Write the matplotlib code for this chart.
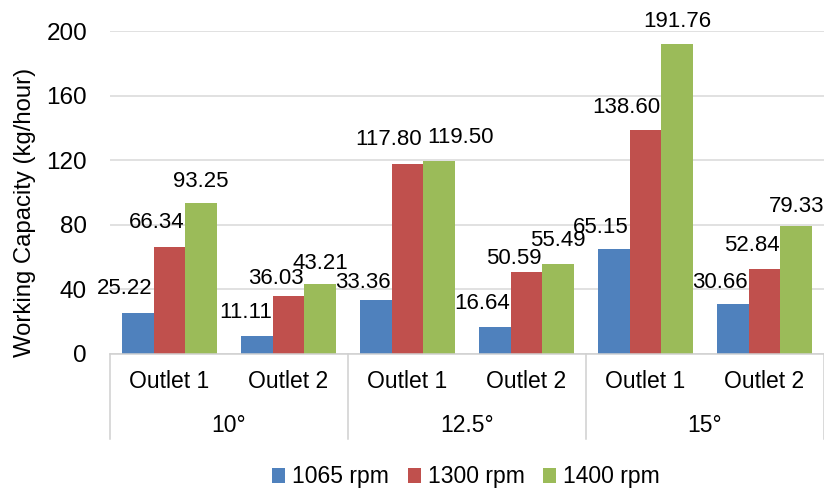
import matplotlib
matplotlib.use("Agg")
import matplotlib.pyplot as plt
import matplotlib.transforms as mtransforms
from matplotlib.lines import Line2D
import numpy as np

plt.rcParams['font.family'] = ['Liberation Sans', 'DejaVu Sans']

# Category structure: outlet within slope angle
outlets = ["Outlet 1", "Outlet 2", "Outlet 1", "Outlet 2", "Outlet 1", "Outlet 2"]
angles = ["10°", "12.5°", "15°"]

# Working capacity (kg/hour) per rotor speed
series_names = ["1065 rpm", "1300 rpm", "1400 rpm"]
rpm_1065 = [25.22, 11.11, 33.36, 16.64, 65.15, 30.66]
rpm_1300 = [66.34, 36.03, 117.80, 50.59, 138.60, 52.84]
rpm_1400 = [93.25, 43.21, 119.50, 55.49, 191.76, 79.33]

yticks = [0, 40, 80, 120, 160, 200]

# Styling
colors = ["#4F81BD", "#C0504D", "#9BBB59"]
label_rise_px = [
    [25, 24, 18, 24, 21, 22],
    [24, 17, 24, 14, 23, 23],
    [22, 21, 24, 24, 23, 19],
]
label_align = [
    ["right"] * 6,
    ["right"] * 6,
    ["center", "center", "left", "center", "center", "center"],
]

W, H, DPI = 824, 492, 100
fig = plt.figure(figsize=(W / DPI, H / DPI), dpi=DPI)
ax_left, ax_right, ax_top, ax_bottom = 110, 824, 31, 354
ax = fig.add_axes([ax_left / W, 1 - ax_bottom / H,
                   (ax_right - ax_left) / W, (ax_bottom - ax_top) / H])

x = np.arange(len(outlets))
bar_w = 1 / 3.75
values = [rpm_1065, rpm_1300, rpm_1400]
px2pt = 72 / DPI

for i, (vals, name, col) in enumerate(zip(values, series_names, colors)):
    xs = x + (i - 1) * bar_w
    ax.bar(xs, vals, width=bar_w, color=col, label=name, zorder=2, linewidth=0)
    for j, v in enumerate(vals):
        ha = label_align[i][j]
        if ha == "right":
            xa, dx = xs[j] + bar_w / 2, -1
        elif ha == "left":
            xa, dx = xs[j] - bar_w / 2, 4
        else:
            xa, dx = xs[j], 0
        ax.annotate(f"{v:.2f}", xy=(xa, v), xytext=(dx * px2pt, label_rise_px[i][j] * px2pt),
                    textcoords="offset points", ha=ha, va="center",
                    fontsize=16, color="black", annotation_clip=False, zorder=3)

ax.set_xlim(-0.5, len(outlets) - 0.5)
ax.set_ylim(0, 200)
ax.set_yticks(yticks)
ax.set_yticklabels([str(t) for t in yticks], fontsize=17.5)
ax.tick_params(axis="y", length=0, pad=16.5)
ax.set_xticks([])
ax.yaxis.grid(True, color="#D9D9D9", linewidth=1.1, zorder=0)
ax.set_axisbelow(True)
for s in ["top", "right", "left"]:
    ax.spines[s].set_visible(False)
ax.spines["bottom"].set_color("#D0D0D0")
ax.spines["bottom"].set_linewidth(1.1)

span = ax_bottom - ax_top
ax.set_ylabel("Working Capacity (kg/hour)", fontsize=17.2, va="center")
ax.yaxis.set_label_coords((25 - ax_left) / (ax_right - ax_left), (ax_bottom - 212) / span)

# Two-level category axis
trans = mtransforms.blended_transform_factory(ax.transData, ax.transAxes)
y_outlet = -(382 - ax_bottom) / span
y_angle = -(426 - ax_bottom) / span
y_sep = -(439 - ax_bottom) / span
for xi, lab in zip(x, outlets):
    ax.text(xi, y_outlet, lab, transform=trans, ha="center", va="center", fontsize=16.5)
for k, lab in enumerate(angles):
    ax.text(2 * k + 0.5, y_angle, lab, transform=trans, ha="center", va="center", fontsize=16.5)
for b in np.arange(-0.5, len(outlets), 2):
    ax.add_line(Line2D([b, b], [0, y_sep], transform=trans, color="#D0D0D0",
                       linewidth=1.1, clip_on=False))

fig.legend(loc="center", bbox_to_anchor=(466 / W, 1 - 477 / H), ncol=3, frameon=False,
           fontsize=16.5, handlelength=0.58, handleheight=0.58, handletextpad=0.3,
           columnspacing=0.8)

fig.savefig("out.png", dpi=DPI)
